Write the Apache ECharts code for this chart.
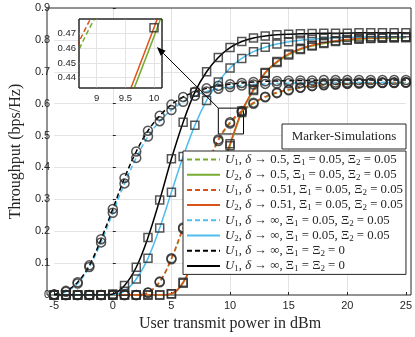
<!DOCTYPE html>
<html><head><meta charset="utf-8">
<script src="https://cdn.jsdelivr.net/npm/echarts@6/dist/echarts.min.js"></script>
<style>html,body{margin:0;padding:0;background:#fff}#c{width:415px;height:337px}</style>
</head><body><div id="c"></div>
<script>
const xVals = [-5,-4,-3,-2,-1,0,1,2,3,4,5,6,7,8,9,10,11,12,13,14,15,16,17,18,19,20,21,22,23,24,25];
const xTicks = [-5,0,5,10,15,20,25];
const yTicks = [0,0.1,0.2,0.3,0.4,0.5,0.6,0.7,0.8,0.9];

// U1, delta -> 0.5 (green dashed)
const u1d05 = [0,0,0,0,0,0,0,0,0.007,0.040,0.112,0.208,0.306,0.397,0.483,0.538,0.574,0.600,0.620,0.633,0.642,0.650,0.655,0.658,0.660,0.662,0.663,0.664,0.665,0.665,0.666];
// U2, delta -> 0.5 (green solid)
const u2d05 = [0,0,0,0,0,0,0,0,0,0,0.003,0.037,0.120,0.245,0.365,0.468,0.572,0.641,0.695,0.729,0.753,0.770,0.781,0.789,0.795,0.799,0.802,0.804,0.805,0.806,0.807];
// U1, delta -> 0.51 (orange dashed)
const u1d051 = [0,0,0,0,0,0,0,0,0.008,0.042,0.115,0.212,0.310,0.402,0.488,0.542,0.577,0.603,0.622,0.635,0.644,0.651,0.656,0.659,0.661,0.663,0.664,0.665,0.666,0.666,0.667];
// U2, delta -> 0.51 (orange solid)
const u2d051 = [0,0,0,0,0,0,0,0,0,0,0.004,0.040,0.125,0.250,0.370,0.474,0.577,0.645,0.698,0.732,0.756,0.772,0.783,0.791,0.797,0.801,0.804,0.806,0.807,0.808,0.809];
// U1, delta -> inf, Xi = 0.05 (blue dashed)
const u1inf = [0.001,0.010,0.036,0.088,0.165,0.258,0.350,0.430,0.497,0.545,0.580,0.606,0.625,0.638,0.647,0.652,0.657,0.660,0.662,0.663,0.664,0.665,0.665,0.665,0.666,0.666,0.666,0.666,0.666,0.666,0.666];
// U2, delta -> inf, Xi = 0.05 (blue solid)
const u2inf = [0,0,0,0,0,0,0.012,0.050,0.115,0.210,0.322,0.434,0.532,0.610,0.668,0.712,0.742,0.763,0.777,0.787,0.794,0.799,0.802,0.805,0.807,0.808,0.809,0.810,0.810,0.810,0.810];
// U1, delta -> inf, Xi = 0 (black dashed)
const u1ideal = [0.002,0.013,0.040,0.093,0.175,0.270,0.367,0.450,0.515,0.562,0.597,0.621,0.637,0.648,0.656,0.661,0.665,0.668,0.670,0.671,0.672,0.673,0.673,0.674,0.674,0.674,0.674,0.674,0.674,0.674,0.674];
// second user, delta -> inf, Xi = 0 (black solid)
const u2ideal = [0,0,0,0,0,0.003,0.030,0.087,0.180,0.298,0.427,0.542,0.636,0.700,0.745,0.776,0.795,0.806,0.812,0.816,0.818,0.819,0.820,0.821,0.821,0.821,0.822,0.822,0.822,0.822,0.822];

const legendNames = [
  'U1, δ → 0.5, Ξ1 = 0.05, Ξ2 = 0.05',
  'U2, δ → 0.5, Ξ1 = 0.05, Ξ2 = 0.05',
  'U1, δ → 0.51, Ξ1 = 0.05, Ξ2 = 0.05',
  'U2, δ → 0.51, Ξ1 = 0.05, Ξ2 = 0.05',
  'U1, δ → ∞, Ξ1 = 0.05, Ξ2 = 0.05',
  'U2, δ → ∞, Ξ1 = 0.05, Ξ2 = 0.05',
  'U1, δ → ∞, Ξ1 = Ξ2 = 0',
  'U1, δ → ∞, Ξ1 = Ξ2 = 0\u200b'
];
const curves = [u1d05,u2d05,u1d051,u2d051,u1inf,u2inf,u1ideal,u2ideal];
const colors = ['#77AC30','#77AC30','#D95319','#D95319','#4DBEEE','#4DBEEE','#000000','#000000'];
const dashed = [true,false,true,false,true,false,true,false];

const SERIF = '"Liberation Serif", "DejaVu Serif", serif';
const SANS = '"Liberation Sans", Arial, sans-serif';

function toRich(name){
  name = name.replace('\u200b','');
  let out='', buf='';
  const flush=()=>{ if(buf){ out+='{n|'+buf+'}'; buf=''; } };
  for(let i=0;i<name.length;i++){
    const c=name[i];
    if(c==='U'||c==='δ'){ flush(); out+='{i|'+c+'}'; }
    else if(/[0-9]/.test(c) && (name[i-1]==='U'||name[i-1]==='Ξ')){ flush(); out+='{s|'+c+'}'; }
    else buf+=c;
  }
  flush();
  return out;
}

const pairs = arr => xVals.map((x,i)=>[x,arr[i]]);
const series = [];
curves.forEach((arr,k)=>{
  const s = {
    name: legendNames[k], type:'line', data: pairs(arr), smooth: 0.35, symbol:'none',
    xAxisIndex:0, yAxisIndex:0, z: 2 + k*0.01,
    lineStyle:{color:colors[k], width:1.5, type: dashed[k]?[5,3]:'solid'},
    itemStyle:{color:colors[k]}
  };
  if(k===2){
    s.markArea = {silent:true, itemStyle:{color:'rgba(0,0,0,0)', borderColor:'#000', borderWidth:1},
      data:[[{coord:[9.0,0.586]},{coord:[11.15,0.505]}]]};
  }
  series.push(s);
});
curves.forEach((arr,k)=>{
  series.push({
    type:'scatter', data: pairs(arr), xAxisIndex:0, yAxisIndex:0, z:3,
    symbol: dashed[k]?'circle':'rect', symbolSize: dashed[k]?9:8,
    itemStyle:{color:'rgba(0,0,0,0)', borderColor:'#2a2a2a', borderWidth:1.5}, silent:true
  });
});
// inset
[0,1,2,3].forEach(k=>{
  series.push({
    type:'line', data: pairs(curves[k]), smooth:0.35, symbol:'none', xAxisIndex:1, yAxisIndex:1, z:6,
    lineStyle:{color:colors[k], width:1.5, type: dashed[k]?[5,3]:'solid'}, silent:true
  });
});
[3].forEach(k=>{
  series.push({
    type:'scatter', data: pairs(curves[k]), xAxisIndex:1, yAxisIndex:1, z:6,
    symbol:'rect', symbolSize:8,
    itemStyle:{color:'rgba(0,0,0,0)', borderColor:'#2a2a2a', borderWidth:1.5}, silent:true
  });
});

const chart = echarts.init(document.getElementById('c'), null, {renderer:'canvas'});
const mainLeft=47, mainTop=8, mainW=364, mainH=287;
const inL=79, inT=19, inW=83, inH=69;
const option = {
  animation:false,
  backgroundColor:'#fff',
  grid:[
    {left:mainLeft, top:mainTop, width:mainW, height:mainH, containLabel:false},
    {left:inL, top:inT, width:inW, height:inH, containLabel:false}
  ],
  xAxis:[
    {type:'value', gridIndex:0, min:xTicks[0], max:xTicks[xTicks.length-1], interval:5,
     name:'User transmit power in dBm', nameLocation:'middle', nameGap:20,
     nameTextStyle:{fontFamily:SERIF, fontSize:16, color:'#262626'},
     axisLine:{show:false}, axisTick:{inside:true, length:3, lineStyle:{color:'#262626'}},
     axisLabel:{fontFamily:SANS, fontSize:11, color:'#262626', margin:5},
     splitLine:{show:true, showMinLine:false, showMaxLine:false, lineStyle:{color:'#e3e3e3', width:1}}},
    {type:'value', gridIndex:1, min:8.69, max:10.14, splitNumber:3, z:5,
     axisLine:{show:false}, axisTick:{show:false},
     axisLabel:{fontFamily:SANS, fontSize:9.5, color:'#262626', margin:5,
       showMinLabel:false, showMaxLabel:false, hideOverlap:false,
       formatter:v=>{const t=Math.round(v*2)/2; return Math.abs(v-t)<1e-6 ? String(t) : '';}},
     splitLine:{show:true, showMinLine:false, showMaxLine:false, lineStyle:{color:'#e3e3e3', width:1}}},
  ],
  yAxis:[
    {type:'value', gridIndex:0, min:yTicks[0], max:yTicks[yTicks.length-1], interval:0.1,
     name:'Throughput (bps/Hz)', nameLocation:'middle', nameGap:27,
     nameTextStyle:{fontFamily:SERIF, fontSize:16, color:'#262626'},
     axisLine:{show:false}, axisTick:{inside:true, length:3, lineStyle:{color:'#262626'}},
     axisLabel:{fontFamily:SANS, fontSize:11, color:'#262626', margin:4},
     splitLine:{show:true, showMinLine:false, showMaxLine:false, lineStyle:{color:'#e3e3e3', width:1}}},
    {type:'value', gridIndex:1, min:0.433, max:0.48, z:5,
     axisLine:{show:false}, axisTick:{show:false},
     axisLabel:{fontFamily:SANS, fontSize:9.5, color:'#262626', margin:3,
       showMinLabel:false, showMaxLabel:false,
       formatter:v=>{const t=Math.round(v*100)/100; return Math.abs(v-t)<1e-6 ? t.toFixed(2) : '';}},
     splitLine:{show:true, showMinLine:false, showMaxLine:false, lineStyle:{color:'#e3e3e3', width:1}}}
  ],
  legend:{
    data: legendNames, orient:'vertical', left:183, top:151, z:8,
    backgroundColor:'#fff', borderColor:'#262626', borderWidth:1,
    padding:[1,3,1,3], itemGap:0.2, itemWidth:33, itemHeight:14,
    selectedMode:false,
    itemStyle:{opacity:0},
    formatter: n => toRich(n),
    textStyle:{
      fontFamily:SERIF, fontSize:12.8, color:'#262626', lineHeight:15,
      rich:{
        n:{fontFamily:SERIF, fontSize:12.8, color:'#262626', lineHeight:15},
        i:{fontFamily:SERIF, fontSize:12.8, fontStyle:'italic', color:'#262626', lineHeight:15},
        s:{fontFamily:SERIF, fontSize:9, color:'#262626', lineHeight:9, verticalAlign:'bottom'}
      }
    }
  },
  graphic:[
    {type:'rect', z:1, silent:true, shape:{x:mainLeft, y:mainTop, width:mainW, height:mainH},
     style:{fill:'none', stroke:'#262626', lineWidth:1}},
    {type:'rect', z:4, silent:true, shape:{x:inL, y:inT, width:inW, height:inH},
     style:{fill:'#fff', stroke:'#262626', lineWidth:1}},
    {type:'rect', z:7, silent:true, shape:{x:inL, y:inT, width:inW, height:inH},
     style:{fill:'none', stroke:'#262626', lineWidth:1}},
    {type:'group', z:8, children:[
      {type:'rect', z:8, silent:true, shape:{x:282, y:124, width:124, height:25},
       style:{fill:'#fff', stroke:'#262626', lineWidth:1}},
      {type:'text', z:9, silent:true, x:344, y:136.5,
       style:{text:'Marker-Simulations', font:'13px '+SERIF, fill:'#262626', align:'center', verticalAlign:'middle'}}
    ]}
  ],
  series: series
};
chart.setOption(option);

// arrow from the zoom box to the inset
const p0 = chart.convertToPixel({gridIndex:0}, [9.0, 0.586]);
const p1 = chart.convertToPixel({gridIndex:1}, [10.05, 0.461]);
const dx = p1[0]-p0[0], dy = p1[1]-p0[1];
const L = Math.sqrt(dx*dx+dy*dy), ux = dx/L, uy = dy/L;
const hl = 9, hw = 3.5;
const bx = p1[0]-ux*hl, by = p1[1]-uy*hl;
chart.setOption({graphic: option.graphic.concat([
  {type:'line', z:9, silent:true, shape:{x1:p0[0], y1:p0[1], x2:bx, y2:by}, style:{stroke:'#000', lineWidth:1}},
  {type:'polygon', z:9, silent:true, shape:{points:[[p1[0],p1[1]],[bx-uy*hw, by+ux*hw],[bx+uy*hw, by-ux*hw]]}, style:{fill:'#000'}}
])});
</script>
</body></html>
